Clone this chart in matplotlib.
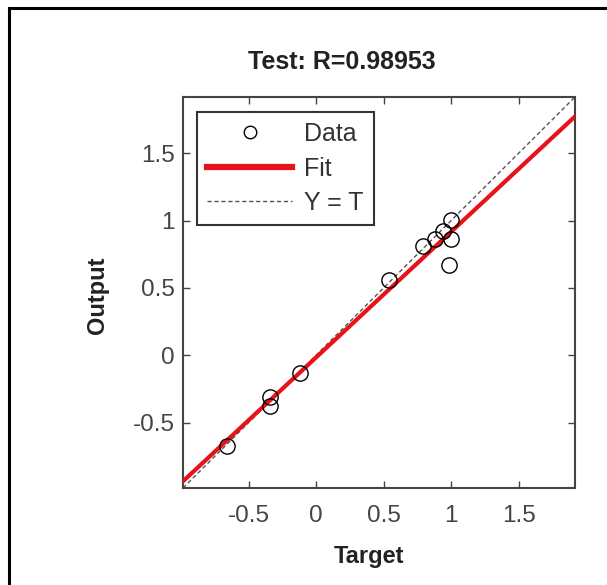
import matplotlib.pyplot as plt
import numpy as np
from matplotlib.patches import Rectangle

plt.rcParams['font.family'] = ['Liberation Sans', 'DejaVu Sans']

# test-set targets and network outputs
target = [-0.658, -0.344, -0.344, -0.122, 0.539, 0.791, 0.878, 0.939, 1.0, 1.0, 0.984]
output = [-0.676, -0.313, -0.375, -0.128, 0.558, 0.810, 0.864, 0.921, 1.007, 0.864, 0.667]
fit_slope = 0.933
fit_intercept = -0.016
r_value = 0.98953
ticks = [-0.5, 0, 0.5, 1, 1.5]
tick_labels = ['-0.5', '0', '0.5', '1', '1.5']
lims = (-0.985, 1.917)

W, H = 607, 585
fig = plt.figure(figsize=(W / 100, H / 100), dpi=100)
ax = fig.add_axes([183 / W, 1 - 488 / H, 392 / W, 391 / H])

xx = np.array(lims)
ax.plot(target, output, 'o', ms=11, mfc='none', mec='black', mew=1.0,
        label='Data', zorder=4)
ax.plot(xx, fit_slope * xx + fit_intercept, color='#e8121a', lw=3.0,
        label='Fit', zorder=3)
ax.plot(xx, xx, ls=(0, (3, 2)), color='#555555', lw=1.0, label='Y = T', zorder=2)

ax.set_xlim(lims)
ax.set_ylim(lims)
ax.set_xticks(ticks, tick_labels)
ax.set_yticks(ticks, tick_labels)
ax.tick_params(direction='in', length=5, width=1, colors='#444444',
               labelsize=17.5, top=True, right=True)
ax.tick_params(axis='x', pad=12)
ax.tick_params(axis='y', pad=6)
for sp in ax.spines.values():
    sp.set_color('#444444')
    sp.set_linewidth(1.5)

ax.set_xlabel('Target', fontsize=17, fontweight='bold', color='#222222')
ax.xaxis.set_label_coords((369 - 183) / 392, -(557 - 488) / 391)
ax.set_ylabel('Output', fontsize=17, fontweight='bold', color='#222222')
ax.yaxis.set_label_coords(-(183 - 97) / 392, (488 - 295) / 391)
ax.yaxis.label.set_va('center')
ax.xaxis.label.set_va('center')

fig.text(342 / W, 1 - 62 / H, 'Test: R=%.5f' % r_value, ha='center', va='center',
         fontsize=18, fontweight='bold', color='#222222')

leg = ax.legend(loc='upper left', bbox_to_anchor=((197 - 183) / 392, (488 - 112) / 391),
                borderaxespad=0, fontsize=18, handlelength=3.4, handletextpad=0.5,
                labelspacing=0.42, borderpad=0.4, fancybox=False, framealpha=1,
                edgecolor='#333333')
leg.get_frame().set_linewidth(1.5)
for t in leg.get_texts():
    t.set_color('#333333')
leg.legend_handles[0].set_markersize(9)
leg.legend_handles[1].set_linewidth(4.5)

# outer frame, only left and top edges fall on the canvas
fig.patches.append(Rectangle((9 / W, -0.1), 1.2, 1 - 8 / H + 0.1, transform=fig.transFigure,
                             fill=False, edgecolor='black', lw=2.2))

fig.savefig('out.png', dpi=100)
